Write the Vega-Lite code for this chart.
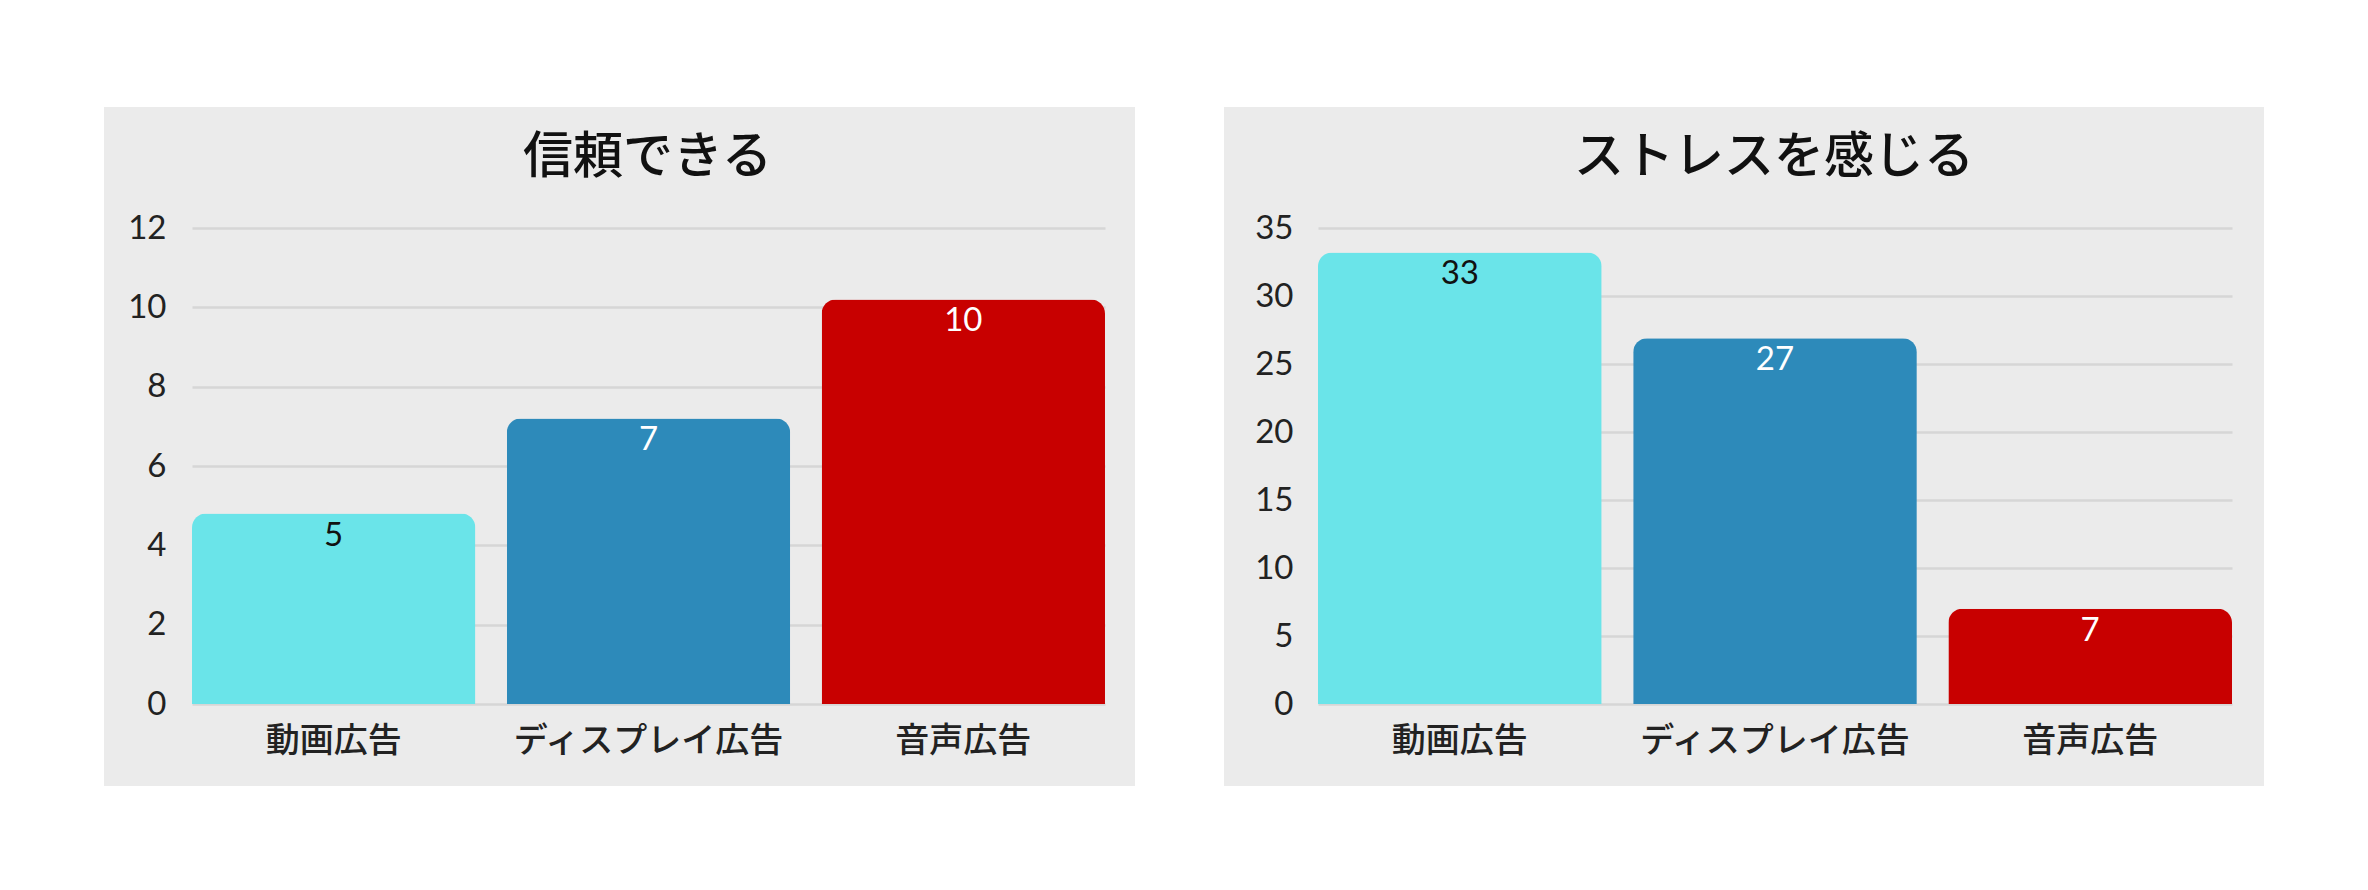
{
  "$schema": "https://vega.github.io/schema/vega-lite/v6.json",
  "background": "white",
  "padding": {"left": 104, "top": 107, "right": 0, "bottom": 0},
  "spacing": 89,
  "config": {
    "view": {"fill": "#ebebeb", "stroke": null},
    "font": "Noto Sans CJK JP",
    "axis": {
      "domain": false,
      "ticks": false,
      "title": null,
      "labelColor": "#222222",
      "labelLimit": 0,
      "gridColor": "#d6d6d6",
      "gridWidth": 2.5
    },
    "title": {"font": "Noto Sans CJK JP", "fontSize": 50, "fontWeight": 500, "color": "#111111", "anchor": "middle"}
  },
  "hconcat": [
    {
      "width": 1031,
      "height": 679,
      "title": {"text": "信頼できる", "offset": -76, "dx": 28},
      "data": {"values": [
        {"media": "動画広告", "value": 4.8},
        {"media": "ディスプレイ広告", "value": 7.2},
        {"media": "音声広告", "value": 10.2}
      ]},
      "encoding": {
        "x": {
          "field": "media", "type": "nominal", "sort": null,
          "scale": {"type": "band", "range": [88, 1001], "paddingInner": 0.1, "paddingOuter": 0},
          "axis": {"labelAngle": 0, "labelFontSize": 34, "labelFontWeight": 500, "labelPadding": 20, "offset": -82, "grid": false}
        },
        "y": {
          "field": "value", "type": "quantitative",
          "scale": {"domain": [0, 12], "range": [597, 121], "nice": false},
          "axis": {"values": [0, 2, 4, 6, 8, 10, 12], "labelFontSize": 33, "labelFont": "Lato", "labelPadding": 10, "offset": -72, "grid": true}
        }
      },
      "layer": [
        {
          "mark": {"type": "bar", "cornerRadiusTopLeft": 14, "cornerRadiusTopRight": 14},
          "encoding": {
            "color": {
              "field": "media", "type": "nominal", "legend": null,
              "scale": {"domain": ["動画広告", "ディスプレイ広告", "音声広告"], "range": ["#6ae4e9", "#2d8aba", "#c80000"]}
            }
          }
        },
        {
          "mark": {"type": "text", "dy": 22, "baseline": "middle", "font": "Lato", "fontSize": 33},
          "encoding": {
            "text": {"field": "value", "type": "quantitative", "format": ".0f"},
            "color": {"condition": {"test": "datum.media === '動画広告'", "value": "#111111"}, "value": "white"}
          }
        }
      ]
    },
    {
      "width": 1040,
      "height": 679,
      "title": {"text": "ストレスを感じる", "offset": -76, "dx": 30},
      "data": {"values": [
        {"media": "動画広告", "value": 33.2},
        {"media": "ディスプレイ広告", "value": 26.9},
        {"media": "音声広告", "value": 7.0}
      ]},
      "encoding": {
        "x": {
          "field": "media", "type": "nominal", "sort": null,
          "scale": {"type": "band", "range": [94, 1008], "paddingInner": 0.1, "paddingOuter": 0},
          "axis": {"labelAngle": 0, "labelFontSize": 34, "labelFontWeight": 500, "labelPadding": 20, "offset": -82, "grid": false}
        },
        "y": {
          "field": "value", "type": "quantitative",
          "scale": {"domain": [0, 35], "range": [597, 121], "nice": false},
          "axis": {"values": [0, 5, 10, 15, 20, 25, 30, 35], "labelFontSize": 33, "labelFont": "Lato", "labelPadding": 10, "offset": -79, "grid": true}
        }
      },
      "layer": [
        {
          "mark": {"type": "bar", "cornerRadiusTopLeft": 14, "cornerRadiusTopRight": 14},
          "encoding": {
            "color": {
              "field": "media", "type": "nominal", "legend": null,
              "scale": {"domain": ["動画広告", "ディスプレイ広告", "音声広告"], "range": ["#6ae4e9", "#2d8aba", "#c80000"]}
            }
          }
        },
        {
          "mark": {"type": "text", "dy": 22, "baseline": "middle", "font": "Lato", "fontSize": 33},
          "encoding": {
            "text": {"field": "value", "type": "quantitative", "format": ".0f"},
            "color": {"condition": {"test": "datum.media === '動画広告'", "value": "#111111"}, "value": "white"}
          }
        }
      ]
    }
  ],
  "resolve": {"scale": {"color": "independent"}}
}
